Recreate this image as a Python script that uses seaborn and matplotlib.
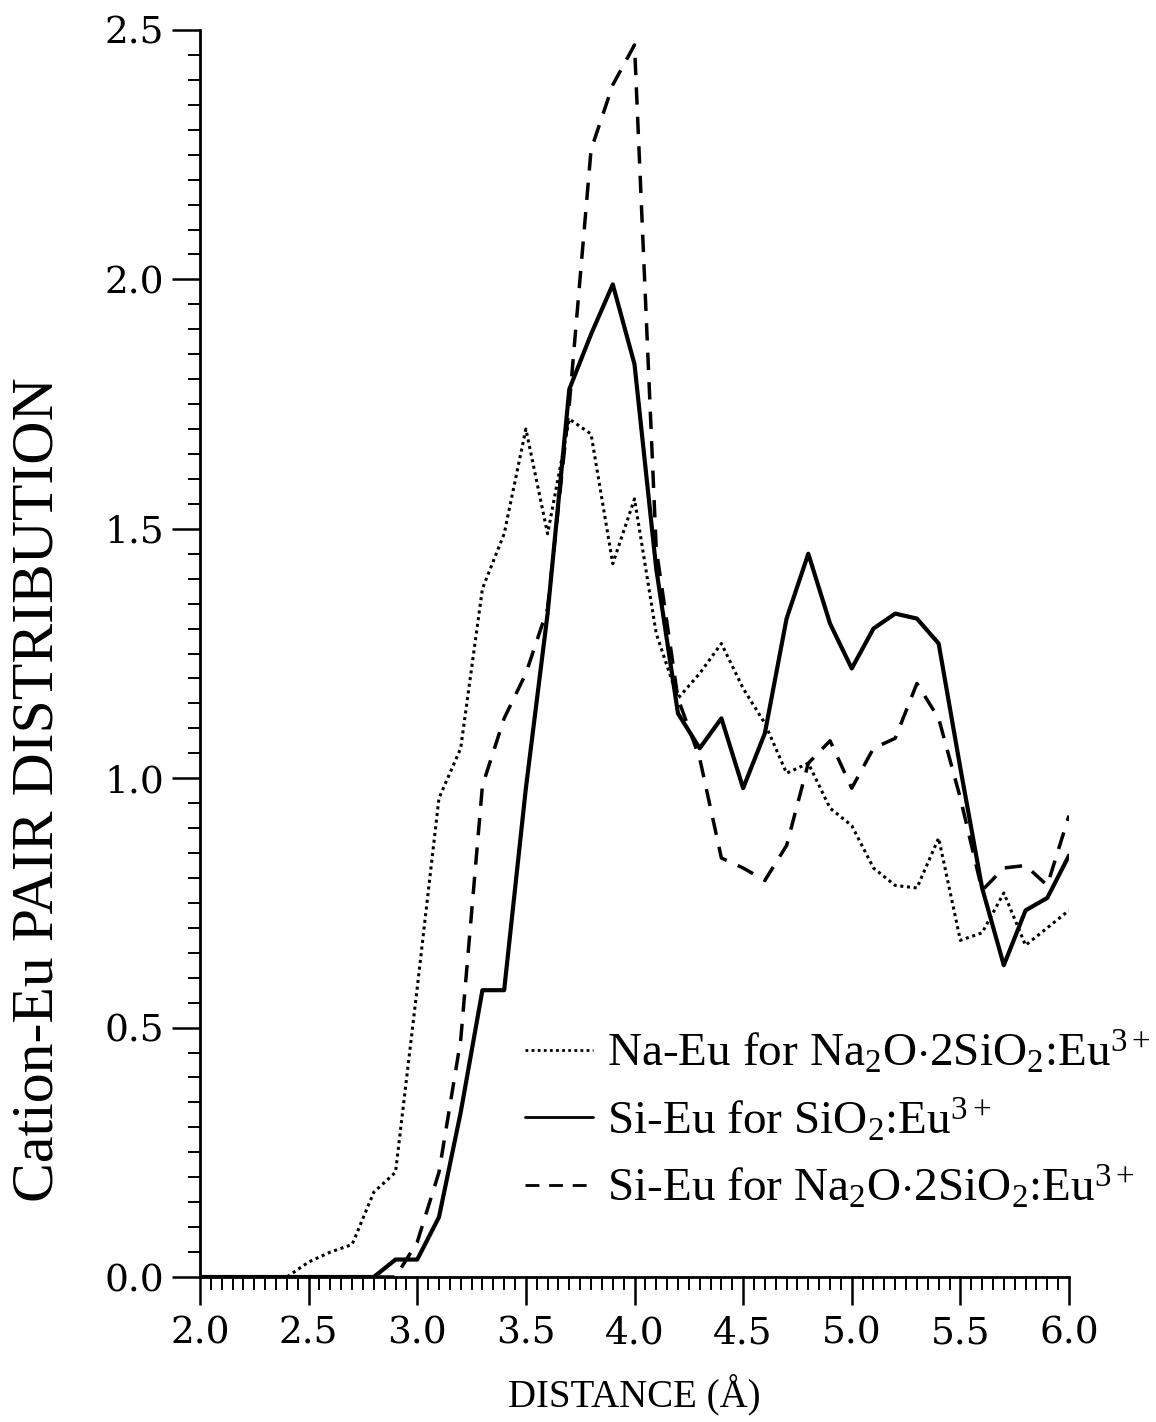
import numpy as np
import pandas as pd
import matplotlib
matplotlib.use("Agg")
import matplotlib.pyplot as plt
from matplotlib.ticker import MultipleLocator, FormatStrFormatter
import seaborn as sns

# distance grid (Angstrom)
distance = [round(2.0 + 0.1 * i, 1) for i in range(41)]

na_eu_glass = [0, 0, 0, 0, 0, 0.03, 0.05, 0.065, 0.17, 0.21,
               0.58, 0.96, 1.06, 1.38, 1.49, 1.70, 1.49, 1.72, 1.69, 1.43,
               1.56, 1.29, 1.16, 1.21, 1.27, 1.18, 1.11, 1.01, 1.03, 0.94,
               0.905, 0.82, 0.785, 0.78, 0.88, 0.675, 0.69, 0.77, 0.665, 0.70,
               0.735]

si_eu_silica = [0, 0, 0, 0, 0, 0, 0, 0, 0, 0.035,
                0.035, 0.12, 0.33, 0.575, 0.575, 0.98, 1.33, 1.78, 1.89, 1.99,
                1.83, 1.42, 1.13, 1.06, 1.12, 0.98, 1.09, 1.32, 1.45, 1.31,
                1.22, 1.30, 1.33, 1.32, 1.27, 1.02, 0.78, 0.625, 0.735, 0.76,
                0.845]

si_eu_glass = [0, 0, 0, 0, 0, 0, 0, 0, 0, 0,
               0.07, 0.21, 0.475, 0.985, 1.12, 1.21, 1.34, 1.75, 2.26, 2.39,
               2.47, 1.46, 1.16, 1.04, 0.84, 0.82, 0.795, 0.865, 1.03, 1.075,
               0.98, 1.06, 1.08, 1.19, 1.12, 0.96, 0.775, 0.82, 0.825, 0.785,
               0.925]

labels = [r"Na-Eu for Na$_2$O$\cdot$2SiO$_2$:Eu$^{3+}$",
          r"Si-Eu for SiO$_2$:Eu$^{3+}$",
          r"Si-Eu for Na$_2$O$\cdot$2SiO$_2$:Eu$^{3+}$"]

sns.set_theme(style="ticks")
plt.rcParams["font.family"] = ["DejaVu Serif"]
plt.rcParams["mathtext.fontset"] = "custom"
plt.rcParams["mathtext.rm"] = "Liberation Serif"
plt.rcParams["mathtext.it"] = "Liberation Serif:italic"
plt.rcParams["mathtext.bf"] = "Liberation Serif:bold"
plt.rcParams["text.color"] = "black"
plt.rcParams["axes.labelcolor"] = "black"
plt.rcParams["xtick.color"] = "black"
plt.rcParams["ytick.color"] = "black"

fig = plt.figure(figsize=(11.56, 14.22), dpi=100)
ax = fig.add_axes([200 / 1156, 1 - 1277 / 1422, 869 / 1156, 1247 / 1422])

series = [(na_eu_glass, labels[0], (0, (1, 1.2)), 2.2),
          (si_eu_silica, labels[1], "-", 3.0),
          (si_eu_glass, labels[2], (0, (5, 3.5)), 2.5)]

for vals, lab, ls, lw in series:
    df = pd.DataFrame({"d": distance, "g": vals})
    sns.lineplot(data=df, x="d", y="g", ax=ax, color="black",
                 linestyle=ls, linewidth=lw, label=lab)

ax.set_xlim(2.0, 6.0)
ax.set_ylim(0.0, 2.5)
ax.xaxis.set_major_locator(MultipleLocator(0.5))
ax.xaxis.set_minor_locator(MultipleLocator(0.05))
ax.yaxis.set_major_locator(MultipleLocator(0.5))
ax.yaxis.set_minor_locator(MultipleLocator(0.05))
ax.xaxis.set_major_formatter(FormatStrFormatter("%.1f"))
ax.yaxis.set_major_formatter(FormatStrFormatter("%.1f"))

ax.tick_params(axis="both", which="major", direction="out", length=20,
               width=1.8, labelsize=27, color="black")
ax.tick_params(axis="both", which="minor", direction="out", length=9,
               width=1.4, color="black")
ax.tick_params(axis="x", which="major", pad=8)
ax.tick_params(axis="y", which="major", pad=6)

for s in ["top", "right"]:
    ax.spines[s].set_visible(False)
for s in ["left", "bottom"]:
    ax.spines[s].set_linewidth(2.0)
    ax.spines[s].set_color("black")

ax.set_xlabel("DISTANCE (Å)", fontsize=28, family="Liberation Serif")
ax.set_ylabel("Cation-Eu PAIR DISTRIBUTION", fontsize=43, family="Liberation Serif")
ax.xaxis.set_label_coords(0.5, (1277 - 1374) / 1247)
ax.yaxis.set_label_coords((66 - 200) / 869, (1277 - 790) / 1247)

leg = ax.legend(loc="lower right", bbox_to_anchor=(1170 / 1156, 1 - 1230 / 1422),
                bbox_transform=fig.transFigure, frameon=False,
                prop={"family": "Liberation Serif", "size": 34},
                handlelength=1.45, handletextpad=0.3, labelspacing=0.42,
                borderaxespad=0)
for line in leg.get_lines():
    line.set_linewidth(2.0)

fig.savefig("out.png", dpi=100, facecolor="white")
